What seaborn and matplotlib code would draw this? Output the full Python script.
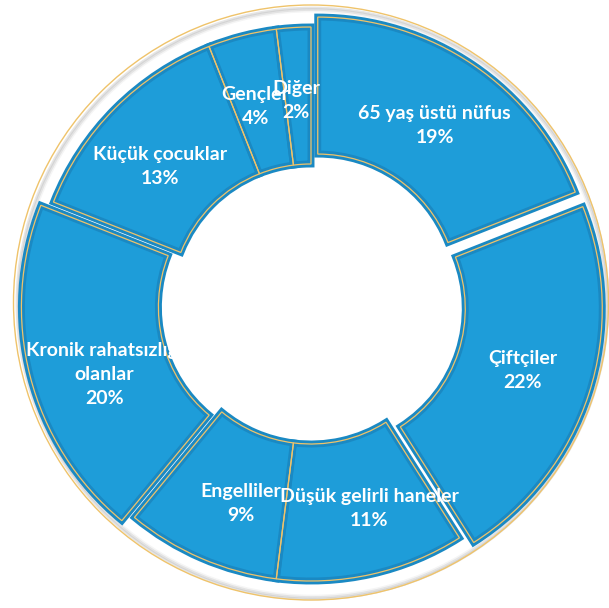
import matplotlib
matplotlib.use("Agg")
import matplotlib.pyplot as plt
from matplotlib.patches import Wedge, Circle
import seaborn as sns

# Segment names and shares (%)
categories = ["65 yaş üstü nüfus", "Çiftçiler", "Düşük gelirli haneler", "Engelliler",
              "Kronik rahatsızlığı\nolanlar", "Küçük çocuklar", "Gençler", "Diğer"]
shares = [19, 22, 11, 9, 20, 13, 4, 2]
# pull-out of each segment, in pixels
pull = [12, 15, 0, 0, 13, 0, 0, 0]
# small nudges of the data labels (right, down), in pixels
label_nudge = [(0, 3), (0, -2), (13, 2), (12, 9), (7, 16), (-4, 9), (-4, 4), (-2, 4)]

sns.set_theme(style="white")
plt.rcParams["font.family"] = ["Lato", "DejaVu Sans"]

W, H = 609, 608
fig = plt.figure(figsize=(W / 100, H / 100), dpi=100)
ax = fig.add_axes([0, 0, 1, 1])

cx, cy = 311, H - 304
R_OUT, RING = 277, 137
fill = "#1E9DD9"
dark = "#1A89C3"
gold = "#EFC36A"

# frame ring around the donut, with a soft grey inner shadow
for rr, lw, a in [(295.5, 2.0, 0.10), (294.0, 2.0, 0.07), (292.5, 2.0, 0.04)]:
    ax.add_patch(Circle((cx + 1.5, cy + 0.5), rr, fill=False, edgecolor="black",
                        alpha=a, lw=lw, zorder=0))
ax.add_patch(Circle((cx, cy + 1.5), 297.5, fill=False, edgecolor=gold, lw=1.0, zorder=1))

labels = [f"{c}\n{v}%" for c, v in zip(categories, shares)]
wedges, texts = ax.pie(
    shares, labels=labels, radius=R_OUT, center=(cx, cy), startangle=90,
    counterclock=False, explode=pull, labeldistance=0.75,
    wedgeprops=dict(width=RING, facecolor=fill, edgecolor=dark, linewidth=5.0),
    frame=True,
)
ax.set_xlim(0, W)
ax.set_ylim(0, H)
ax.set_aspect("equal")
ax.axis("off")

for w in wedges:
    # keep only the inner half of the darker rim
    w.set_clip_path(w)
    w.set_zorder(2)
    ax.add_patch(Wedge(w.center, w.r, w.theta1, w.theta2, width=w.width,
                       fill=False, edgecolor=gold, lw=0.9, zorder=3))

for t, (dx, dy) in zip(texts, label_nudge):
    x, y = t.get_position()
    t.set(position=(x + dx, y - dy), color="white", fontsize=14, fontweight="bold",
          ha="center", va="center", linespacing=1.5, zorder=4)

fig.savefig("out.png", dpi=100, facecolor="white")
